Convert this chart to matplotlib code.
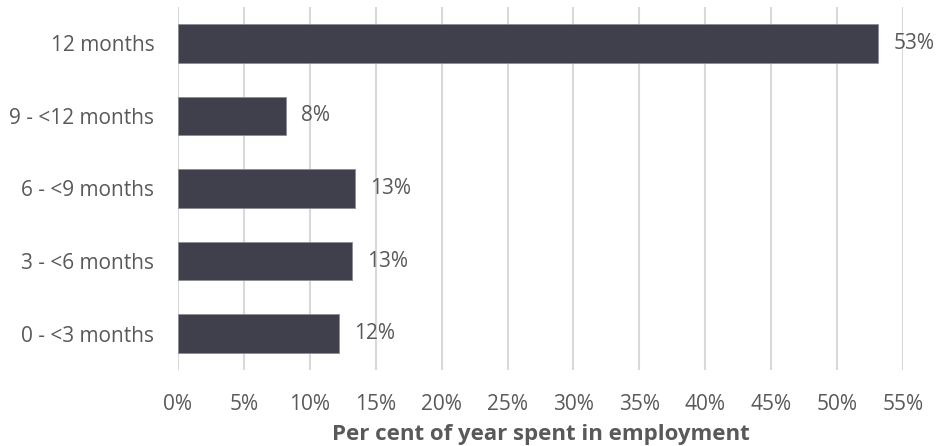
import matplotlib
matplotlib.use("Agg")
import matplotlib.pyplot as plt
from matplotlib.ticker import FuncFormatter

categories = ["0 - <3 months", "3 - <6 months", "6 - <9 months", "9 - <12 months", "12 months"]
values = [12.2, 13.2, 13.4, 8.2, 53.1]
xticks = list(range(0, 56, 5))

plt.rcParams["font.family"] = ["Open Sans", "DejaVu Sans"]
text_color = "#595959"

W, H = 937, 446
fig = plt.figure(figsize=(W / 100, H / 100), dpi=100)
ax = fig.add_axes([178 / W, 1 - 370 / H, (903 - 178) / W, (370 - 7) / H])

ypos = range(len(categories))
ax.barh(ypos, values, height=0.53, color="#3F404C", edgecolor="#8a8b94",
        linewidth=0.6, zorder=3)

for y, v in zip(ypos, values):
    ax.annotate(f"{round(v):.0f}%", xy=(v, y), xytext=(11, 0),
                textcoords="offset points", va="center", ha="left",
                fontsize=15, color=text_color)

ax.set_xlim(0, 55)
ax.set_ylim(-0.5, len(categories) - 0.5)
ax.set_xticks(xticks)
ax.xaxis.set_major_formatter(FuncFormatter(lambda x, _: f"{x:.0f}%"))
ax.set_yticks(list(ypos))
ax.set_yticklabels(categories)

ax.grid(axis="x", color="#D9D9D9", linewidth=1.5, zorder=0)
ax.grid(axis="y", visible=False)
for s in ax.spines.values():
    s.set_visible(False)
ax.tick_params(axis="both", length=0, labelsize=15, labelcolor=text_color)
ax.tick_params(axis="x", pad=17)
ax.tick_params(axis="y", pad=17)

ax.set_xlabel("Per cent of year spent in employment", fontsize=16,
              fontweight="bold", color=text_color, labelpad=7)

fig.savefig("out.png", dpi=100)
